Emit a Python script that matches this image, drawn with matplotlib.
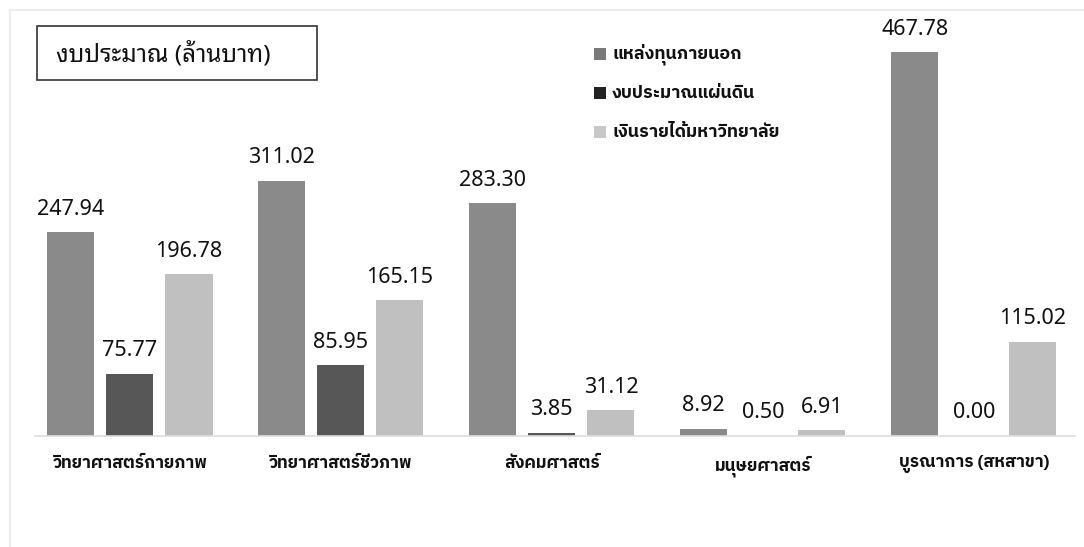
import matplotlib
matplotlib.use("Agg")
import matplotlib.pyplot as plt
import numpy as np

# categories and series values (million baht)
categories = ['วิทยาศาสตร์กายภาพ', 'วิทยาศาสตร์ชีวภาพ', 'สังคมศาสตร์',
              'มนุษยศาสตร์', 'บูรณาการ (สหสาขา)']
series_names = ['แหล่งทุนภายนอก', 'งบประมาณแผ่นดิน', 'เงินรายได้มหาวิทยาลัย']
external = [247.94, 311.02, 283.30, 8.92, 467.78]
government = [75.77, 85.95, 3.85, 0.50, 0.00]
university = [196.78, 165.15, 31.12, 6.91, 115.02]

colors = ['#8a8a8a', '#575757', '#c0c0c0']
legend_colors = ['#7a7a7a', '#222222', '#c8c8c8']

num_font = ['Noto Sans Thai Looped', 'DejaVu Sans']
thai_font = ['IBM Plex Sans Thai', 'DejaVu Sans']

fig = plt.figure(figsize=(10.84, 5.47), dpi=100)
ax = fig.add_axes([35 / 1084, (547 - 436) / 547, 1040 / 1084, 426 / 547])

x = np.arange(len(categories))
width = 0.223
step = 0.28
for i, (vals, c) in enumerate(zip([external, government, university], colors)):
    bars = ax.bar(x + (i - 1) * step, vals, width, color=c, label=series_names[i], zorder=2)
    for bar in bars:
        h = bar.get_height()
        ax.annotate(f'{h:.2f}', xy=(bar.get_x() + bar.get_width() / 2, h),
                    xytext=(0, 9), textcoords='offset points',
                    ha='center', va='bottom', fontsize=15.5, family=num_font,
                    color='#111111')

ax.set_xlim(-0.45, 4.48)
ax.set_ylim(0, 519)
ax.set_xticks(x)
ax.set_xticklabels(categories, family=thai_font, fontsize=12.3, fontweight='bold',
                   color='#111111')
ax.tick_params(axis='x', length=0, pad=14)
ax.set_yticks([])
for s in ['top', 'right', 'left']:
    ax.spines[s].set_visible(False)
ax.spines['bottom'].set_color('#dddddd')
ax.spines['bottom'].set_linewidth(1.2)

# title box
fig.patches.append(plt.Rectangle((37 / 1084, 1 - 80 / 547), 280 / 1084, 54 / 547,
                                 transform=fig.transFigure, facecolor='white',
                                 edgecolor='#333333', lw=1.2))
fig.text(56 / 1084, 1 - 55 / 547, 'งบประมาณ (ล้านบาท)', family=num_font, fontsize=17.5,
         fontweight='semibold', va='center', ha='left', color='#111111')

# legend
for i, (name, c) in enumerate(zip(series_names, legend_colors)):
    yy = 1 - (54 + i * 39) / 547
    fig.patches.append(plt.Rectangle((594 / 1084, yy - 6 / 547), 12 / 1084, 12 / 547,
                                     transform=fig.transFigure, facecolor=c, edgecolor='none'))
    fig.text(612 / 1084, yy, name, family=thai_font, fontsize=12.8, fontweight='bold',
             va='center', ha='left', color='#111111')

# faint frame lines
fig.add_artist(plt.Line2D([10 / 1084, 10 / 1084], [0, 1 - 10 / 547], transform=fig.transFigure,
                          color='#ececec', lw=1.5))
fig.add_artist(plt.Line2D([10 / 1084, 1], [1 - 10 / 547, 1 - 10 / 547], transform=fig.transFigure,
                          color='#ececec', lw=1.5))

fig.savefig('out.png')
